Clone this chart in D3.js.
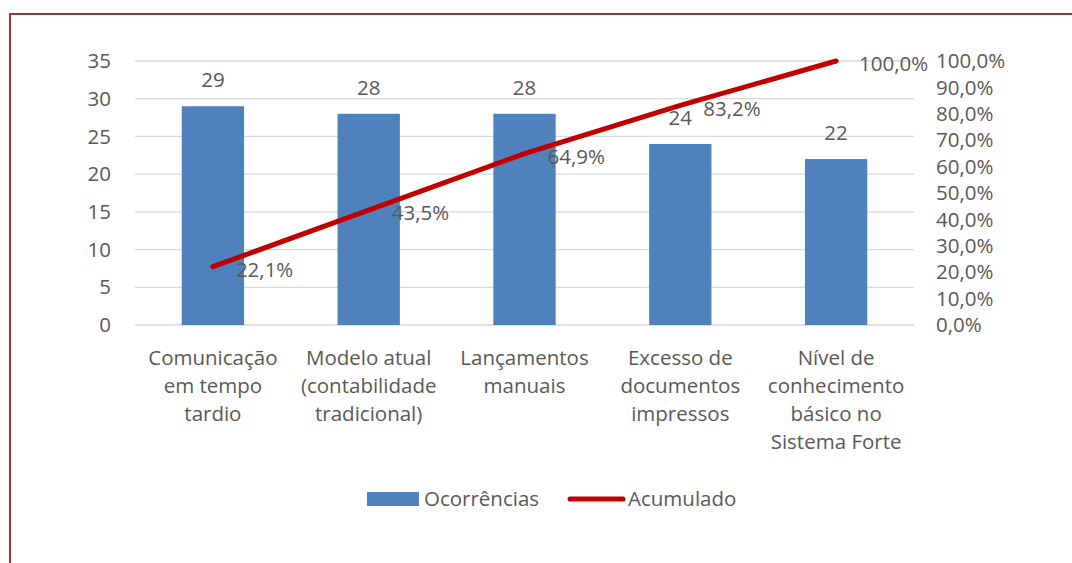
<!DOCTYPE html>
<html>
<head>
<meta charset="utf-8">
<script src="https://cdn.jsdelivr.net/npm/d3@7"></script>
<style>
  body { margin: 0; background: #fff; }
  text { font-family: "Open Sans", Lato, sans-serif; fill: #595959; }
</style>
</head>
<body>
<svg id="chart" width="1072" height="563"></svg>
<script>
// data
const categories = [
  ["Comunicação", "em tempo", "tardio"],
  ["Modelo atual", "(contabilidade", "tradicional)"],
  ["Lançamentos", "manuais"],
  ["Excesso de", "documentos", "impressos"],
  ["Nível de", "conhecimento", "básico no", "Sistema Forte"]
];
const ocorrencias = [29, 28, 28, 24, 22];
const acumulado = [22.1, 43.5, 64.9, 83.2, 100.0];
const leftTicks = [0, 5, 10, 15, 20, 25, 30, 35];
const rightTicks = [0, 10, 20, 30, 40, 50, 60, 70, 80, 90, 100];

const svg = d3.select("#chart");
const fs = 20.5;
const fmtPct = v => v.toFixed(1).replace(".", ",") + "%";

// outer frame
svg.append("rect")
  .attr("x", 10).attr("y", 14)
  .attr("width", 1080).attr("height", 580)
  .attr("fill", "none")
  .attr("stroke", "#9b3535")
  .attr("stroke-width", 2);

const plot = { left: 135, right: 914, top: 61, bottom: 325 };

const x = d3.scaleBand()
  .domain(d3.range(categories.length))
  .range([plot.left, plot.right])
  .paddingInner(0.6).paddingOuter(0.3);
const xc = i => x(i) + x.bandwidth() / 2;

const y = d3.scaleLinear().domain([0, 35]).range([plot.bottom, plot.top]);
const y2 = d3.scaleLinear().domain([0, 100]).range([plot.bottom, plot.top]);

// gridlines
svg.append("g").selectAll("line")
  .data(leftTicks)
  .enter().append("line")
  .attr("x1", plot.left).attr("x2", plot.right)
  .attr("y1", d => y(d)).attr("y2", d => y(d))
  .attr("stroke", "#d9d9d9")
  .attr("stroke-width", 1.3);

// left axis labels
svg.append("g").selectAll("text")
  .data(leftTicks)
  .enter().append("text")
  .attr("x", 111)
  .attr("y", d => y(d))
  .attr("dy", "0.35em")
  .attr("text-anchor", "end")
  .style("font-size", fs + "px")
  .text(d => d);

// right axis labels
svg.append("g").selectAll("text")
  .data(rightTicks)
  .enter().append("text")
  .attr("x", 936)
  .attr("y", d => y2(d))
  .attr("dy", "0.35em")
  .style("font-size", fs + "px")
  .text(d => fmtPct(d));

// bars
svg.append("g").selectAll("rect")
  .data(ocorrencias)
  .enter().append("rect")
  .attr("x", (d, i) => x(i))
  .attr("y", d => y(d))
  .attr("width", x.bandwidth())
  .attr("height", d => plot.bottom - y(d))
  .attr("fill", "#4f81bd");

// bar value labels
svg.append("g").selectAll("text")
  .data(ocorrencias)
  .enter().append("text")
  .attr("x", (d, i) => xc(i))
  .attr("y", d => y(d) - 19)
  .attr("text-anchor", "middle")
  .style("font-size", fs + "px")
  .text(d => d);

// cumulative line
const line = d3.line()
  .x((d, i) => xc(i))
  .y(d => y2(d));

svg.append("path")
  .datum(acumulado)
  .attr("d", line)
  .attr("fill", "none")
  .attr("stroke", "#c00000")
  .attr("stroke-width", 5)
  .attr("stroke-linecap", "round");

// line labels
svg.append("g").selectAll("text")
  .data(acumulado)
  .enter().append("text")
  .attr("x", (d, i) => xc(i) + 23)
  .attr("y", d => y2(d) + 3)
  .attr("dy", "0.35em")
  .style("font-size", fs + "px")
  .text(d => fmtPct(d));

// category labels
const cat = svg.append("g").selectAll("text")
  .data(categories)
  .enter().append("text")
  .attr("text-anchor", "middle")
  .style("font-size", fs + "px");
cat.selectAll("tspan")
  .data((d, i) => d.map(s => ({ s, i })))
  .enter().append("tspan")
  .attr("x", d => xc(d.i))
  .attr("y", (d, j) => 365 + j * 28)
  .text(d => d.s);

// legend
const lg = svg.append("g");
lg.append("rect")
  .attr("x", 367).attr("y", 492)
  .attr("width", 52).attr("height", 14)
  .attr("fill", "#4f81bd");
lg.append("text")
  .attr("x", 424).attr("y", 499).attr("dy", "0.35em")
  .style("font-size", fs + "px")
  .text("Ocorrências");
lg.append("line")
  .attr("x1", 570).attr("x2", 623)
  .attr("y1", 499).attr("y2", 499)
  .attr("stroke", "#c00000")
  .attr("stroke-width", 5)
  .attr("stroke-linecap", "round");
lg.append("text")
  .attr("x", 628).attr("y", 499).attr("dy", "0.35em")
  .style("font-size", fs + "px")
  .text("Acumulado");
</script>
</body>
</html>
